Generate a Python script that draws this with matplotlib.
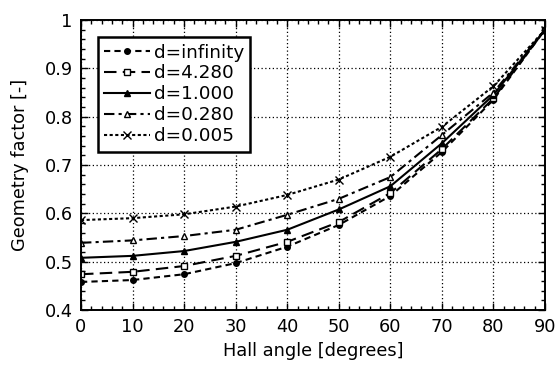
import matplotlib
matplotlib.use("Agg")
import matplotlib.pyplot as plt
from matplotlib.ticker import MultipleLocator, FixedLocator

plt.rcParams['font.family'] = ['DejaVu Sans']

hall_angle = [0, 10, 20, 30, 40, 50, 60, 70, 80, 90]
d_inf = [0.458, 0.462, 0.474, 0.497, 0.531, 0.576, 0.636, 0.727, 0.835, 0.980]
d_4280 = [0.474, 0.479, 0.491, 0.512, 0.541, 0.582, 0.642, 0.733, 0.838, 0.980]
d_1000 = [0.508, 0.512, 0.522, 0.541, 0.566, 0.608, 0.656, 0.745, 0.845, 0.980]
d_0280 = [0.539, 0.544, 0.553, 0.566, 0.597, 0.630, 0.675, 0.762, 0.850, 0.980]
d_0005 = [0.586, 0.590, 0.598, 0.614, 0.638, 0.670, 0.717, 0.779, 0.863, 0.980]
labels = ['d=infinity', 'd=4.280', 'd=1.000', 'd=0.280', 'd=0.005']
xticks = [0, 10, 20, 30, 40, 50, 60, 70, 80, 90]
yticks = [0.4, 0.5, 0.6, 0.7, 0.8, 0.9, 1.0]
yticklabels = ['0.4', '0.5', '0.6', '0.7', '0.8', '0.9', '1']

fig = plt.figure(figsize=(5.57, 3.67), dpi=100)
ax = fig.add_axes([81/557, 1-310/367, (545-81)/557, (310-20)/367])

styles = [
    dict(ls=(0, (3, 2)), marker='o', mfc='black', ms=4),
    dict(ls=(0, (6, 3)), marker='s', mfc='white', ms=4),
    dict(ls='-', marker='^', mfc='black', ms=5),
    dict(ls=(0, (5, 2, 1.5, 2)), marker='^', mfc='white', ms=5),
    dict(ls=(0, (1.5, 1.2)), marker='x', mfc='black', ms=6),
]
series = [d_inf, d_4280, d_1000, d_0280, d_0005]
for ys, lab, st in zip(series, labels, styles):
    ax.plot(hall_angle, ys, color='black', lw=1.5, mec='black', label=lab, **st)

ax.set_xlim(0, 90)
ax.set_ylim(0.4, 1.0)
ax.xaxis.set_major_locator(FixedLocator(xticks))
ax.set_yticks(yticks)
ax.set_yticklabels(yticklabels)
ax.xaxis.set_minor_locator(MultipleLocator(2))
ax.yaxis.set_minor_locator(MultipleLocator(0.02))
ax.tick_params(which='both', direction='in', top=True, right=True, labelsize=12.8, width=1)
ax.tick_params(which='major', length=5, pad=6)
ax.tick_params(which='minor', length=3)
ax.grid(True, which='major', color='black', ls=(0, (1, 2)), lw=0.9)
for s in ax.spines.values():
    s.set_linewidth(1.4)

ax.set_xlabel('Hall angle [degrees]', fontsize=12.8)
ax.xaxis.set_label_coords(0.5, -0.11)
ax.set_ylabel('Geometry factor [-]', fontsize=12.8)
ax.yaxis.set_label_coords(-0.113, 0.5)

leg = ax.legend(loc='upper left', bbox_to_anchor=(0.036, 0.941), fontsize=13.2,
                frameon=True, fancybox=False, edgecolor='black', framealpha=1,
                handlelength=2.5, handletextpad=0.2, borderpad=0.35, labelspacing=0.16,
                borderaxespad=0)
leg.get_frame().set_linewidth(1.8)

fig.savefig('out.png', dpi=100)
